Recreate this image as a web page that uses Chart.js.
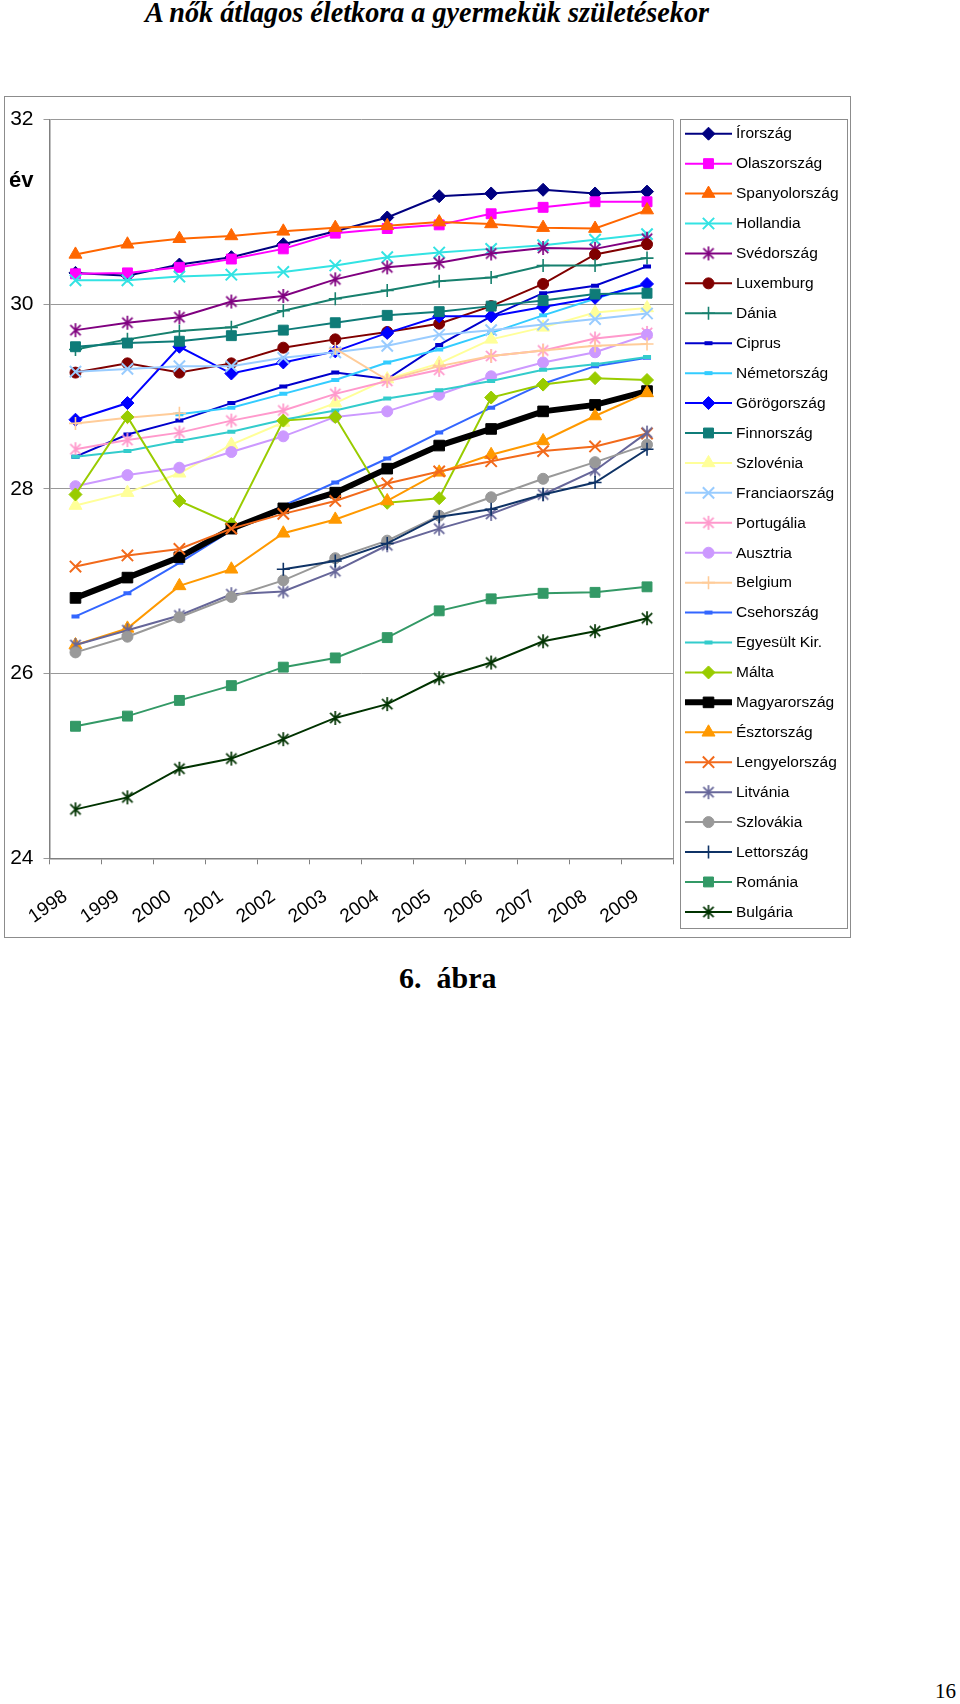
<!DOCTYPE html>
<html lang="hu">
<head>
<meta charset="utf-8">
<title>A nők átlagos életkora a gyermekük születésekor</title>
<script src="https://cdn.jsdelivr.net/npm/chart.js@4.4.1/dist/chart.umd.min.js"></script>
<style>
html,body{margin:0;padding:0;background:#fff;}
body{width:960px;height:1704px;position:relative;overflow:hidden;}
#title{position:absolute;left:145px;top:-5px;font-family:"Liberation Serif","Times New Roman",serif;font-weight:bold;font-style:italic;font-size:30px;line-height:34px;white-space:nowrap;transform-origin:0 0;transform:scaleX(0.94);color:#000;}
#box{position:absolute;left:4px;top:96px;width:845px;height:840px;border:1px solid #8c8c8c;}
#chart{display:block;}
#caption{position:absolute;left:399px;top:961px;font-family:"Liberation Serif","Times New Roman",serif;font-weight:bold;font-size:30px;line-height:34px;white-space:pre;color:#000;}
#page{position:absolute;left:935px;top:1679px;font-family:"Liberation Serif","Times New Roman",serif;font-size:21px;line-height:24px;color:#000;}
</style>
</head>
<body>
<div id="title">A nők átlagos életkora a gyermekük születésekor</div>
<div id="box"><canvas id="chart" width="845" height="840"></canvas></div>
<div id="caption">6.  ábra</div>
<div id="page">16</div>
<script>
// ---- data ----
const years = ['1998','1999','2000','2001','2002','2003','2004','2005','2006','2007','2008','2009'];
const yTicks = [24, 26, 28, 30, 32];
const yAxisTitle = 'év';

const irorszag      = [30.34, 30.31, 30.43, 30.51, 30.65, 30.79, 30.94, 31.17, 31.20, 31.24, 31.20, 31.22];
const olaszorszag   = [30.33, 30.34, 30.40, 30.49, 30.60, 30.77, 30.82, 30.86, 30.98, 31.05, 31.11, 31.11];
const spanyolorszag = [30.54, 30.65, 30.71, 30.74, 30.79, 30.83, 30.85, 30.89, 30.87, 30.83, 30.82, 31.02];
const hollandia     = [30.26, 30.26, 30.30, 30.32, 30.35, 30.42, 30.51, 30.56, 30.60, 30.64, 30.70, 30.76];
const svedorszag    = [29.72, 29.80, 29.86, 30.03, 30.09, 30.27, 30.40, 30.45, 30.55, 30.61, 30.60, 30.71];
const luxemburg     = [29.26, 29.36, 29.26, 29.36, 29.53, 29.62, 29.70, 29.79, 29.98, 30.22, 30.54, 30.65];
const dania         = [29.51, 29.62, 29.71, 29.75, 29.93, 30.06, 30.15, 30.25, 30.29, 30.42, 30.42, 30.50];
const ciprus        = [28.35, 28.59, 28.74, 28.93, 29.11, 29.26, 29.19, 29.56, 29.87, 30.12, 30.20, 30.41];
const nemetorszag   = [null, null, 28.81, 28.88, 29.03, 29.18, 29.37, 29.51, 29.69, 29.88, 30.06, 30.23];
const gorogorszag   = [28.75, 28.93, 29.54, 29.25, 29.37, 29.49, 29.69, 29.87, 29.87, 29.97, 30.07, 30.22];
const finnorszag    = [29.54, 29.58, 29.60, 29.66, 29.72, 29.80, 29.88, 29.92, 29.98, 30.04, 30.11, 30.12];
const szlovenia     = [27.82, 27.96, 28.17, 28.48, 28.72, 28.93, 29.19, 29.36, 29.62, 29.75, 29.91, 29.96];
const franciaorszag = [29.27, 29.30, 29.33, 29.33, 29.42, 29.48, 29.55, 29.67, 29.72, 29.78, 29.84, 29.90];
const portugalia    = [28.43, 28.53, 28.61, 28.74, 28.85, 29.03, 29.17, 29.29, 29.44, 29.50, 29.63, 29.69];
const ausztria      = [28.03, 28.15, 28.23, 28.40, 28.57, 28.78, 28.84, 29.02, 29.22, 29.37, 29.48, 29.67];
const belgium       = [28.71, 28.77, 28.82, null, null, 29.52, 29.18, 29.33, 29.44, 29.50, 29.55, 29.57];
const csehorszag    = [26.62, 26.87, 27.20, 27.55, 27.82, 28.07, 28.33, 28.61, 28.88, 29.14, 29.33, 29.42];
const egyesultKir   = [28.35, 28.41, 28.52, 28.62, 28.75, 28.85, 28.98, 29.07, 29.17, 29.29, 29.35, 29.43];
const malta         = [27.94, 28.78, 27.87, 27.62, 28.74, 28.78, 27.85, 27.90, 28.99, 29.13, 29.20, 29.18];
const magyarorszag  = [26.82, 27.04, 27.26, 27.57, 27.79, 27.96, 28.22, 28.47, 28.65, 28.84, 28.91, 29.06];
const esztorszag    = [26.31, 26.49, 26.95, 27.13, 27.52, 27.67, 27.87, 28.18, 28.37, 28.52, 28.79, 29.04];
const lengyelorszag = [27.16, 27.28, 27.35, 27.57, 27.73, 27.87, 28.06, 28.19, 28.30, 28.41, 28.46, 28.60];
const litvania      = [26.31, 26.47, 26.63, 26.86, 26.89, 27.11, 27.39, 27.57, 27.73, 27.94, 28.20, 28.61];
const szlovakia     = [26.23, 26.40, 26.61, 26.83, 27.01, 27.25, 27.44, 27.71, 27.91, 28.11, 28.29, 28.48];
const lettorszag    = [null, null, null, null, 27.13, 27.22, 27.41, 27.70, 27.78, 27.94, 28.07, 28.43];
const romania       = [25.43, 25.54, 25.71, 25.87, 26.07, 26.17, 26.39, 26.68, 26.81, 26.87, 26.88, 26.94];
const bulgaria      = [24.53, 24.66, 24.97, 25.08, 25.29, 25.52, 25.67, 25.95, 26.12, 26.35, 26.46, 26.60];

// ---- styles ----
function asterisk(color, r, lw) {
  let s = Math.ceil(2 * r + lw + 2); if (s % 2) s++;
  const c = document.createElement('canvas'); c.width = s; c.height = s;
  const g = c.getContext('2d'); const m = s / 2; const d = r * 0.74;
  g.strokeStyle = color; g.lineWidth = lw;
  g.beginPath();
  g.moveTo(m, m - r); g.lineTo(m, m + r);
  g.moveTo(m - d, m - d); g.lineTo(m + d, m + d);
  g.moveTo(m + d, m - d); g.lineTo(m - d, m + d);
  g.stroke();
  return c;
}
const M = {
  diamond:  {style: 'rectRot', r: 6.5, bw: 1},
  square:   {style: 'rect', r: 7, bw: 1},
  triangle: {style: 'triangle', r: 7.5, bw: 1},
  x:        {style: 'crossRot', r: 8, bw: 2},
  plus:     {style: 'cross', r: 6.5, bw: 1.6},
  circle:   {style: 'circle', r: 5.5, bw: 1},
  dash:     {style: 'line', r: 4, bw: 4},
  star:     {style: 'star', r: 7, bw: 1.7}
};
const seriesDefs = [
  ['Írország', irorszag, '#000080', 'diamond'],
  ['Olaszország', olaszorszag, '#FF00FF', 'square'],
  ['Spanyolország', spanyolorszag, '#FF6600', 'triangle'],
  ['Hollandia', hollandia, '#33E3E3', 'x'],
  ['Svédország', svedorszag, '#800080', 'star'],
  ['Luxemburg', luxemburg, '#800000', 'circle'],
  ['Dánia', dania, '#17806E', 'plus'],
  ['Ciprus', ciprus, '#0000CC', 'dash'],
  ['Németország', nemetorszag, '#33CCFF', 'dash'],
  ['Görögország', gorogorszag, '#0000FF', 'diamond'],
  ['Finnország', finnorszag, '#0F7C78', 'square'],
  ['Szlovénia', szlovenia, '#FFFF99', 'triangle'],
  ['Franciaország', franciaorszag, '#99CCFF', 'x'],
  ['Portugália', portugalia, '#FF99CC', 'star'],
  ['Ausztria', ausztria, '#CC99FF', 'circle'],
  ['Belgium', belgium, '#FFCC99', 'plus'],
  ['Csehország', csehorszag, '#3366FF', 'dash'],
  ['Egyesült Kir.', egyesultKir, '#33CCCC', 'dash'],
  ['Málta', malta, '#99CC00', 'diamond'],
  ['Magyarország', magyarorszag, '#000000', 'square'],
  ['Észtország', esztorszag, '#FF9900', 'triangle'],
  ['Lengyelország', lengyelorszag, '#F26A1B', 'x'],
  ['Litvánia', litvania, '#666699', 'star'],
  ['Szlovákia', szlovakia, '#999999', 'circle'],
  ['Lettország', lettorszag, '#0F3366', 'plus'],
  ['Románia', romania, '#339966', 'square'],
  ['Bulgária', bulgaria, '#003300', 'star']
];

const datasets = seriesDefs.map(([label, data, color, mk], i) => {
  const m = M[mk];
  const thick = label === 'Magyarország';
  const pstyle = mk === 'star' ? asterisk(color, m.r, m.bw) : m.style;
  return {
    label, data,
    borderColor: color, backgroundColor: color,
    borderWidth: thick ? 6 : 2,
    pointStyle: pstyle,
    pointRadius: thick ? 7.5 : m.r,
    pointBackgroundColor: color,
    pointBorderColor: color,
    pointBorderWidth: m.bw,
    pointHoverRadius: m.r,
    tension: 0,
    spanGaps: false,
    order: 100 - i
  };
});

const FONT = 'Liberation Sans, Arial, sans-serif';

const decor = {
  id: 'decor',
  afterDraw(chart) {
    const {ctx, chartArea: a} = chart;
    ctx.save();
    // right border of plot area
    ctx.strokeStyle = '#999999'; ctx.lineWidth = 1;
    ctx.beginPath();
    ctx.moveTo(Math.round(a.right) + 0.5, a.top);
    ctx.lineTo(Math.round(a.right) + 0.5, a.bottom);
    ctx.stroke();
    // axis title
    ctx.fillStyle = '#000';
    ctx.font = 'bold 22px ' + FONT;
    ctx.textBaseline = 'alphabetic'; ctx.textAlign = 'left';
    ctx.fillText(yAxisTitle, 4, 90);
    // legend box
    const left = Math.round(a.right) + 7, top = 22, right = 842, bottom = 831;
    ctx.strokeStyle = '#8c8c8c'; ctx.lineWidth = 1;
    ctx.strokeRect(left + 0.5, top + 0.5, right - left, bottom - top);
    const step = 29.93, firstY = 36.7;
    const x0 = left + 5, x1 = left + 52, cx = (x0 + x1) / 2, tx = left + 56;
    ctx.font = '15.5px ' + FONT;
    chart.data.datasets.forEach((ds, i) => {
      const y = firstY + i * step;
      ctx.strokeStyle = ds.borderColor; ctx.lineWidth = ds.borderWidth;
      ctx.beginPath(); ctx.moveTo(x0, y); ctx.lineTo(x1, y); ctx.stroke();
      ctx.fillStyle = ds.pointBackgroundColor; ctx.strokeStyle = ds.pointBorderColor;
      ctx.lineWidth = ds.pointBorderWidth;
      Chart.helpers.drawPoint(ctx, {pointStyle: ds.pointStyle, radius: ds.pointRadius, rotation: 0, borderWidth: ds.pointBorderWidth}, cx, y);
      ctx.fillStyle = '#000'; ctx.textBaseline = 'middle'; ctx.textAlign = 'left';
      ctx.fillText(ds.label, tx, y + 0.5);
    });
    ctx.restore();
  }
};

new Chart(document.getElementById('chart'), {
  type: 'line',
  data: {labels: years, datasets},
  options: {
    responsive: false,
    animation: false,
    events: [],
    layout: {padding: {left: 5, top: 18, right: 177, bottom: 0}},
    plugins: {legend: {display: false}, tooltip: {enabled: false}, title: {display: false}},
    scales: {
      x: {
        type: 'category',
        offset: true,
        grid: {offset: true, drawOnChartArea: false, drawTicks: true, tickLength: 6, color: '#808080'},
        border: {display: true, color: '#808080', width: 1.5},
        ticks: {autoSkip: false, minRotation: 35, maxRotation: 35, padding: 21, labelOffset: -10,
                color: '#000', font: {family: FONT, size: 19}},
        afterFit(s) { s.height = 78.7; }
      },
      y: {
        min: yTicks[0], max: yTicks[yTicks.length - 1],
        afterBuildTicks(s) { s.ticks = yTicks.map(v => ({value: v})); },
        ticks: {padding: 10, color: '#000', font: {family: FONT, size: 21}},
        grid: {color: '#999999', tickLength: 6, drawTicks: true},
        border: {color: '#808080', width: 1.5},
        afterFit(s) { s.width = 39.5; }
      }
    }
  },
  plugins: [decor]
});
</script>
</body>
</html>
